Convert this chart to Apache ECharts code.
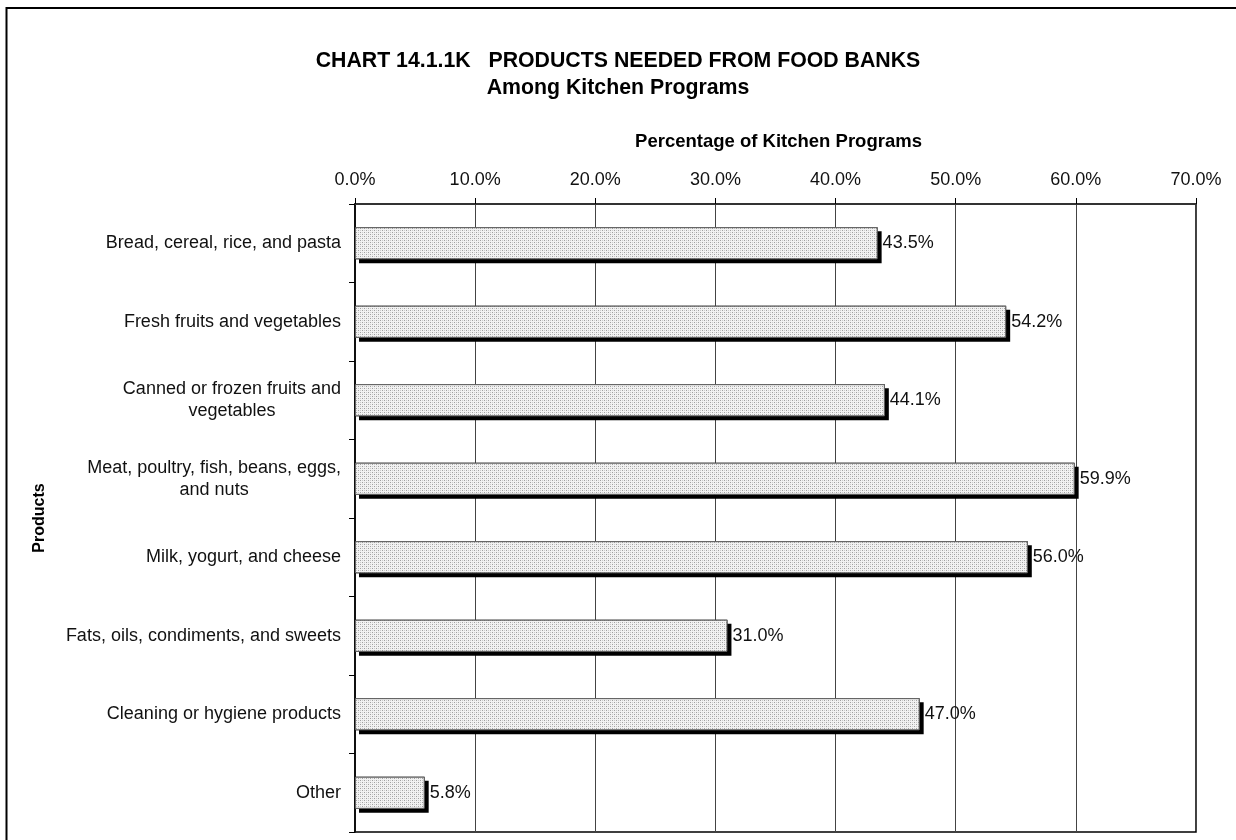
<!DOCTYPE html>
<html>
<head>
<meta charset="utf-8">
<script src="https://cdn.jsdelivr.net/npm/echarts@6/dist/echarts.min.js"></script>
<style>
html,body{margin:0;padding:0;background:#fff;}
#chart{width:1236px;height:840px;}
</style>
</head>
<body>
<div id="chart"></div>
<script>
const categories = [
  'Bread, cereal, rice, and pasta',
  'Fresh fruits and vegetables',
  'Canned or frozen fruits and\nvegetables',
  'Meat, poultry, fish, beans, eggs,\nand nuts',
  'Milk, yogurt, and cheese',
  'Fats, oils, condiments, and sweets',
  'Cleaning or hygiene products',
  'Other'
];
const values = [43.5, 54.2, 44.1, 59.9, 56.0, 31.0, 47.0, 5.8];
const titleText = 'CHART 14.1.1K   PRODUCTS NEEDED FROM FOOD BANKS\nAmong Kitchen Programs';
const xAxisTitle = 'Percentage of Kitchen Programs';
const yAxisTitle = 'Products';

const FONT = '"Liberation Sans", Arial, sans-serif';

// dotted fill pattern
const pat = document.createElement('canvas');
pat.width = 4; pat.height = 4;
const pctx = pat.getContext('2d');
pctx.fillStyle = '#f2f2f2';
pctx.fillRect(0, 0, 4, 4);
pctx.fillStyle = '#a0a0a0';
pctx.fillRect(0, 0, 1, 1);
pctx.fillRect(2, 2, 1, 1);
pctx.fillStyle = '#cccccc';
pctx.fillRect(2, 0, 1, 1);
pctx.fillRect(0, 2, 1, 1);

const chart = echarts.init(document.getElementById('chart'), null, {renderer: 'canvas'});
chart.setOption({
  animation: false,
  backgroundColor: '#fff',
  textStyle: {fontFamily: FONT},
  title: {
    text: titleText,
    left: 'center',
    top: 43,
    textStyle: {fontFamily: FONT, fontSize: 21.3, fontWeight: 'bold', color: '#000', lineHeight: 27}
  },
  graphic: [{
    type: 'rect',
    shape: {x: 6.5, y: 8, width: 1400, height: 1000},
    style: {fill: 'none', stroke: '#000', lineWidth: 2},
    silent: true,
    z: 100
  }],
  grid: {
    left: 355, right: 40, top: 204, bottom: 8,
    show: true, borderColor: '#000', borderWidth: 1.5, backgroundColor: 'transparent'
  },
  xAxis: {
    type: 'value',
    position: 'top',
    min: 0, max: 70, interval: 10,
    name: xAxisTitle,
    nameLocation: 'middle',
    nameGap: 53,
    nameTextStyle: {fontFamily: FONT, fontSize: 18.5, fontWeight: 'bold', color: '#000', padding: [0, 0, 0, 6]},
    axisLine: {show: true, lineStyle: {color: '#333', width: 2}},
    axisTick: {show: true, inside: false, length: 6, lineStyle: {color: '#000', width: 1}},
    axisLabel: {
      margin: 15,
      fontFamily: FONT, fontSize: 18, color: '#111',
      formatter: v => v.toFixed(1) + '%'
    },
    splitLine: {show: true, lineStyle: {color: '#444', width: 1}}
  },
  yAxis: {
    type: 'category',
    data: categories,
    inverse: true,
    name: yAxisTitle,
    nameLocation: 'middle',
    nameRotate: 90,
    nameGap: 307,
    nameTextStyle: {fontFamily: FONT, fontSize: 16, fontWeight: 'bold', color: '#000'},
    axisLine: {show: true, lineStyle: {color: '#000', width: 1.5}},
    axisTick: {show: true, inside: false, length: 6, lineStyle: {color: '#000', width: 1}},
    axisLabel: {
      margin: 14,
      fontFamily: FONT, fontSize: 18, color: '#111', lineHeight: 22,
      formatter: function (v) {
        if (v.indexOf('\n') < 0) return v;
        return v.split('\n').map(s => '{c|' + s + '}').join('\n');
      },
      rich: {
        c: {align: 'center', fontFamily: FONT, fontSize: 18, color: '#111', lineHeight: 22}
      }
    },
    splitLine: {show: false}
  },
  series: [{
    // drop shadow layer (hidden under the patterned bar, only its offset shadow shows)
    type: 'bar',
    data: values,
    barWidth: '41%',
    barGap: '-100%',
    silent: true,
    itemStyle: {
      color: '#000',
      shadowColor: '#000',
      shadowBlur: 0,
      shadowOffsetX: 4,
      shadowOffsetY: 4
    },
    label: {show: false}
  }, {
    type: 'bar',
    data: values,
    barWidth: '41%',
    barGap: '-100%',
    itemStyle: {
      color: {image: pat, repeat: 'repeat'},
      borderColor: '#666',
      borderWidth: 1
    },
    label: {
      show: true,
      position: 'right',
      distance: 5,
      fontFamily: FONT, fontSize: 18, color: '#111',
      formatter: p => p.value.toFixed(1) + '%'
    }
  }]
});
</script>
</body>
</html>
